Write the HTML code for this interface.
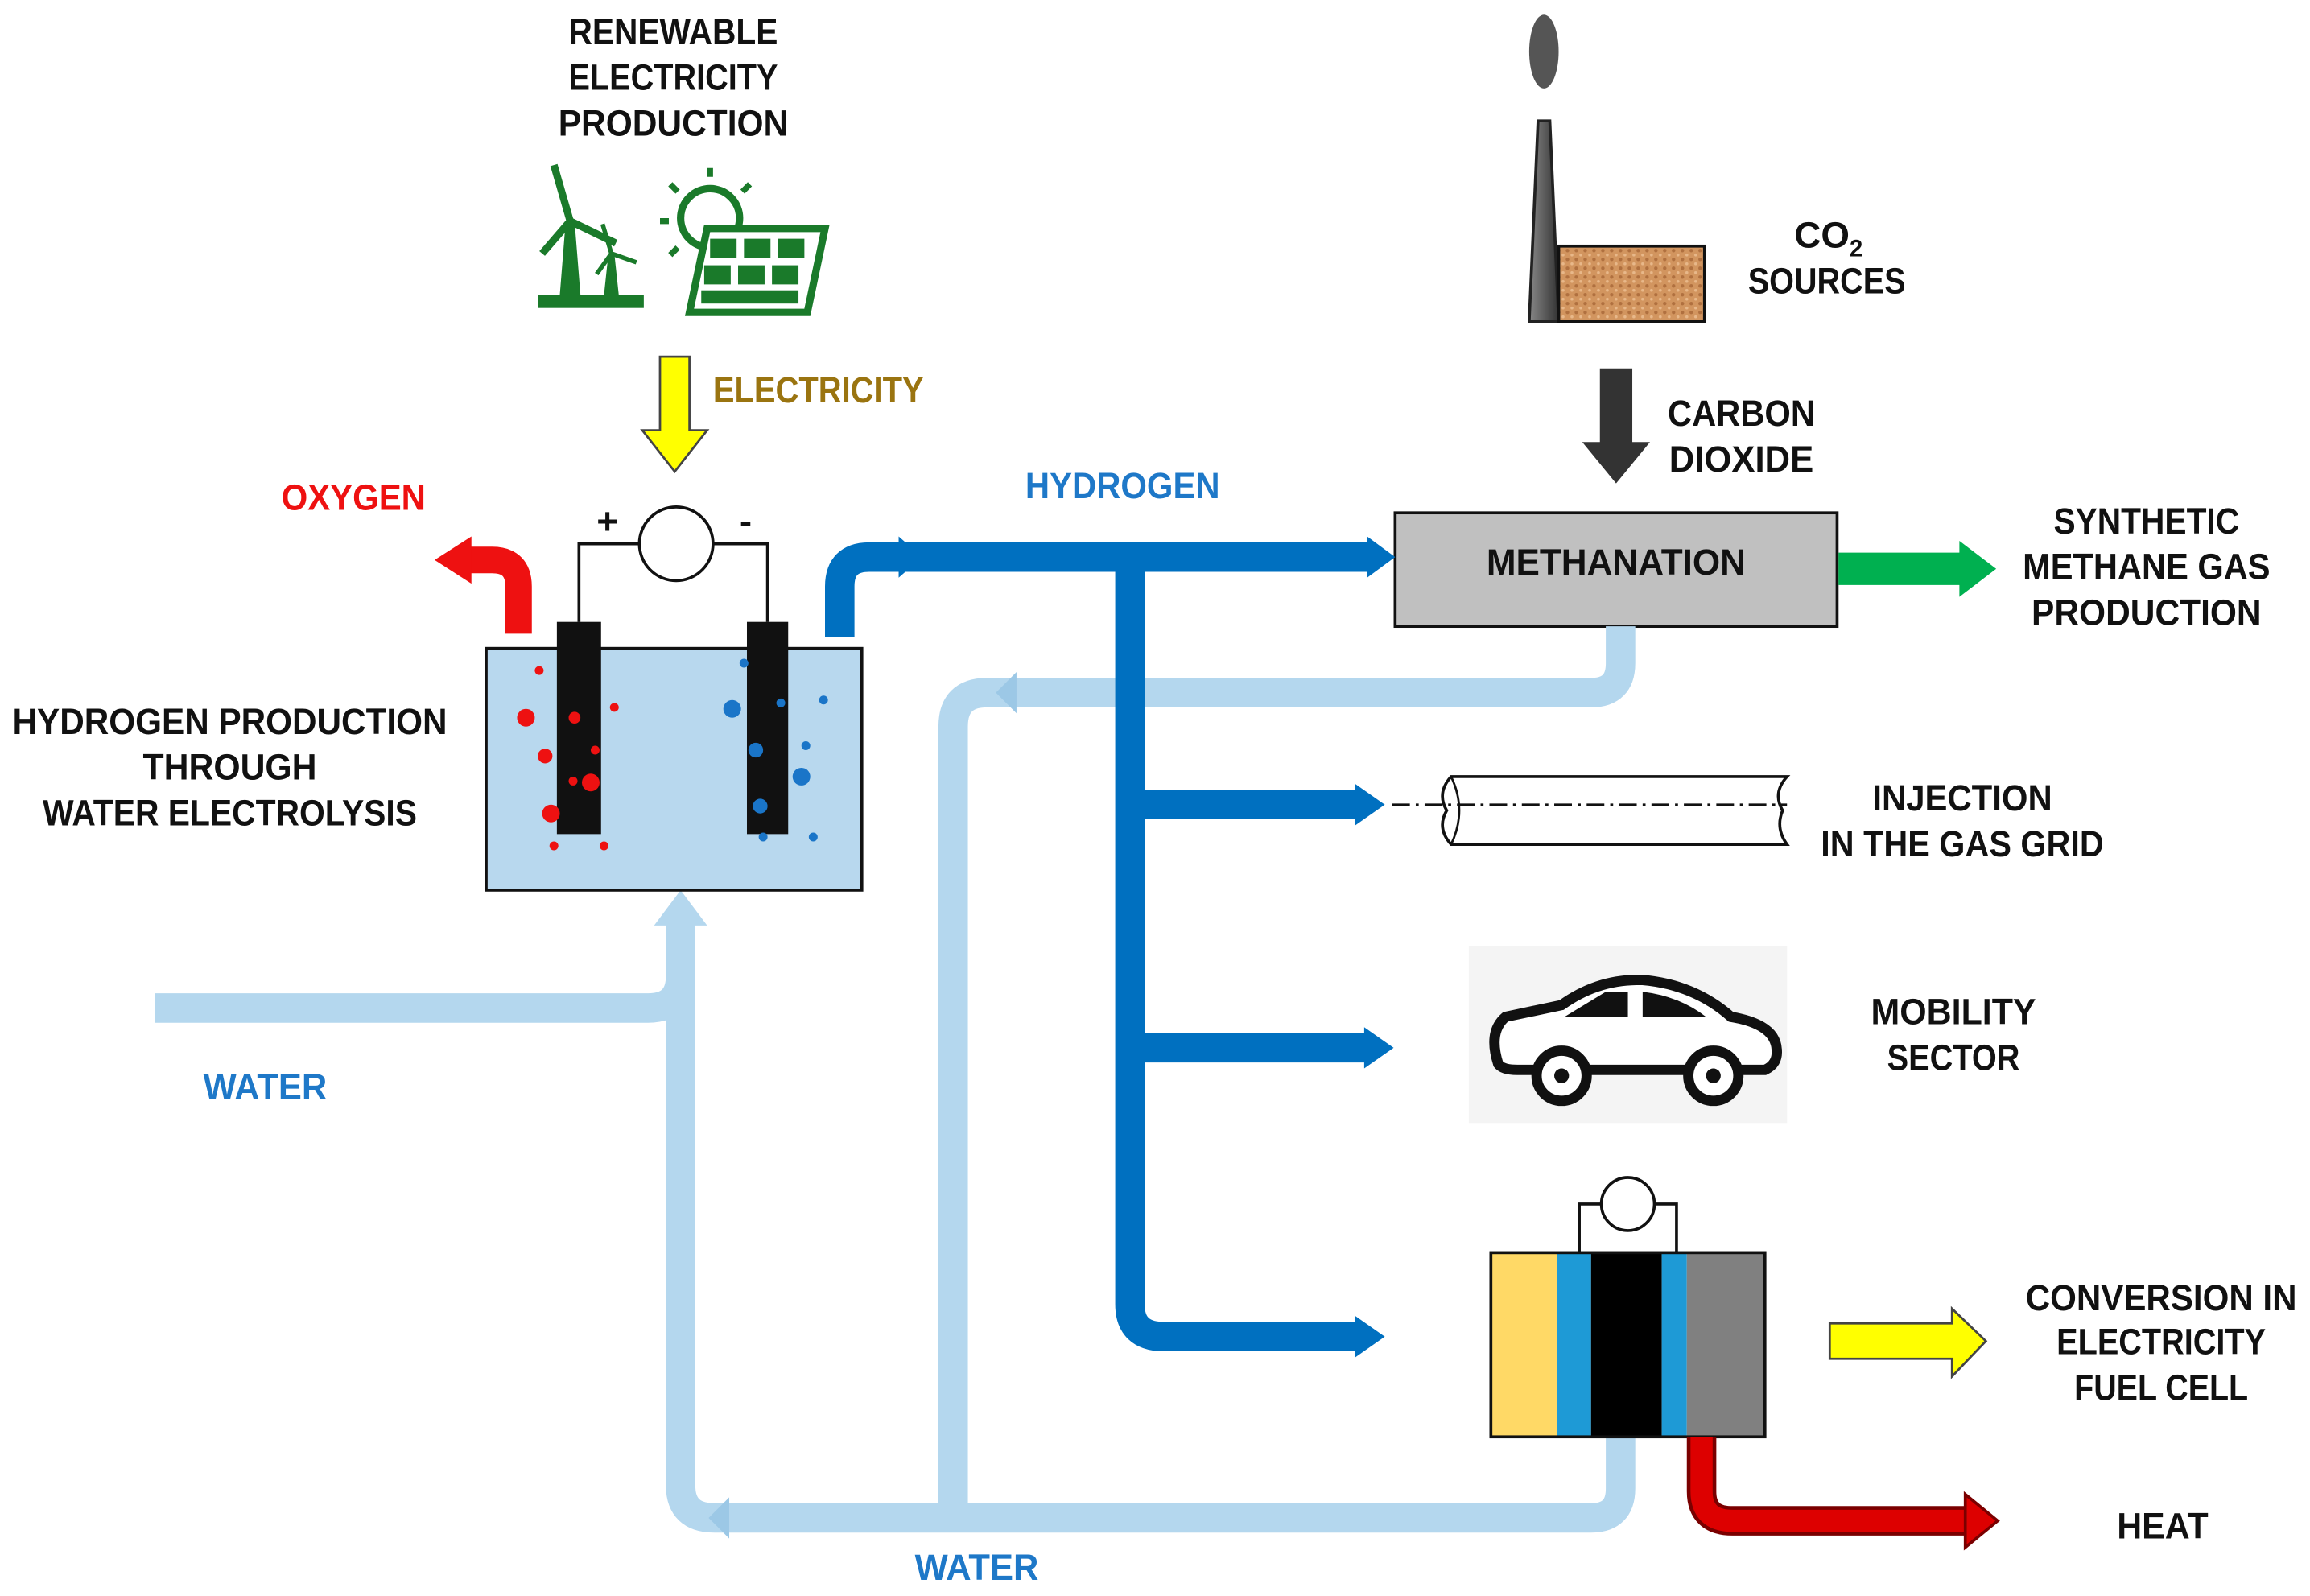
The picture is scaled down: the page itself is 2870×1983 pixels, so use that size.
<!DOCTYPE html>
<html><head><meta charset="utf-8"><style>
html,body{margin:0;padding:0;background:#fff;}
svg{display:block}
text{font-family:"Liberation Sans Narrow","Liberation Sans",sans-serif;font-weight:bold;font-size:25px;}
</style></head><body>
<svg width="2870" height="1983" viewBox="0 0 1568 1083" preserveAspectRatio="none" xmlns="http://www.w3.org/2000/svg">
<defs>
<pattern id="brick" width="6" height="6" patternUnits="userSpaceOnUse">
<rect width="6" height="6" fill="#d2955f"/><circle cx="2" cy="2" r="1.2" fill="#b0703f"/><circle cx="5" cy="5" r="1" fill="#e8b88a"/>
</pattern>
<linearGradient id="stack" x1="0" x2="1"><stop offset="0" stop-color="#888"/><stop offset="1" stop-color="#333"/></linearGradient>
</defs>

<!-- Titles -->
<g fill="#111" text-anchor="middle">
<text x="457" y="30" textLength="142" lengthAdjust="spacingAndGlyphs">RENEWABLE</text>
<text x="457" y="61" textLength="142" lengthAdjust="spacingAndGlyphs">ELECTRICITY</text>
<text x="457" y="92" textLength="156" lengthAdjust="spacingAndGlyphs">PRODUCTION</text>
<text x="1240" y="199" textLength="107" lengthAdjust="spacingAndGlyphs">SOURCES</text>
<text x="1182" y="289" textLength="100" lengthAdjust="spacingAndGlyphs">CARBON</text>
<text x="1182" y="320" textLength="98" lengthAdjust="spacingAndGlyphs">DIOXIDE</text>
<text x="1457" y="362" textLength="126" lengthAdjust="spacingAndGlyphs">SYNTHETIC</text>
<text x="1457" y="393" textLength="168" lengthAdjust="spacingAndGlyphs">METHANE GAS</text>
<text x="1457" y="424" textLength="156" lengthAdjust="spacingAndGlyphs">PRODUCTION</text>
<text x="156" y="498" textLength="295" lengthAdjust="spacingAndGlyphs">HYDROGEN PRODUCTION</text>
<text x="156" y="529" textLength="118" lengthAdjust="spacingAndGlyphs">THROUGH</text>
<text x="156" y="560" textLength="254" lengthAdjust="spacingAndGlyphs">WATER ELECTROLYSIS</text>
<text x="1332" y="550" textLength="122" lengthAdjust="spacingAndGlyphs">INJECTION</text>
<text x="1332" y="581" textLength="192" lengthAdjust="spacingAndGlyphs">IN THE GAS GRID</text>
<text x="1326" y="695" textLength="112" lengthAdjust="spacingAndGlyphs">MOBILITY</text>
<text x="1326" y="726" textLength="90" lengthAdjust="spacingAndGlyphs">SECTOR</text>
<text x="1467" y="889" textLength="184" lengthAdjust="spacingAndGlyphs">CONVERSION IN</text>
<text x="1467" y="919" textLength="142" lengthAdjust="spacingAndGlyphs">ELECTRICITY</text>
<text x="1467" y="950" textLength="118" lengthAdjust="spacingAndGlyphs">FUEL CELL</text>
<text x="1468" y="1044" textLength="62" lengthAdjust="spacingAndGlyphs">HEAT</text>
</g>
<text x="1218" y="168" fill="#111">CO<tspan font-size="16" dy="6">2</tspan></text>
<text x="484" y="273" fill="#9a7410" textLength="143" lengthAdjust="spacingAndGlyphs">ELECTRICITY</text>
<text x="240" y="346" fill="#ee1111" text-anchor="middle" textLength="98" lengthAdjust="spacingAndGlyphs">OXYGEN</text>
<text x="762" y="338" fill="#1e78c8" text-anchor="middle" textLength="132" lengthAdjust="spacingAndGlyphs">HYDROGEN</text>
<text x="180" y="746" fill="#1e78c8" text-anchor="middle" textLength="84" lengthAdjust="spacingAndGlyphs">WATER</text>
<text x="663" y="1072" fill="#1e78c8" text-anchor="middle" textLength="84" lengthAdjust="spacingAndGlyphs">WATER</text>

<!-- Renewable icons -->
<g fill="#1a7a2a" stroke="#1a7a2a">
<rect x="365" y="200" width="72" height="9" stroke="none"/>
<polygon points="380,200 384,150 390,150 394,200" stroke="none"/>
<path d="M387,150 L376,112 M387,150 L418,165 M387,150 L368,172" stroke-width="5" fill="none"/>
<polygon points="410,200 413,172 417,172 420,200" stroke="none"/>
<path d="M415,172 L409,152 M415,172 L432,178 M415,172 L405,186" stroke-width="3" fill="none"/>
<circle cx="482" cy="148" r="20" fill="none" stroke-width="5"/>
<path d="M482,120 v-6 M460,130 l-5,-5 M504,130 l5,-5 M454,150 h-6 M460,168 l-5,5" stroke-width="4"/>
<polygon points="480,155 560,155 548,212 468,212" fill="#fff" stroke-width="5"/>
<g stroke="none"><rect x="482" y="162" width="18" height="13"/><rect x="505" y="162" width="18" height="13"/><rect x="528" y="162" width="18" height="13"/>
<rect x="478" y="180" width="18" height="13"/><rect x="501" y="180" width="18" height="13"/><rect x="524" y="180" width="18" height="13"/>
<rect x="476" y="197" width="66" height="9"/></g>
</g>

<!-- Smokestack -->
<ellipse cx="1048" cy="35" rx="10" ry="25" fill="#555"/>
<polygon points="1038,218 1044,82 1052,82 1058,218" fill="url(#stack)" stroke="#222" stroke-width="2"/>
<rect x="1058" y="167" width="99" height="51" fill="url(#brick)" stroke="#111" stroke-width="2"/>

<!-- Arrows electricity / CO2 -->
<polygon points="448,242 468,242 468,292 480,292 458,320 436,292 448,292" fill="#ffff00" stroke="#444" stroke-width="1.5"/>
<polygon points="1086,250 1108,250 1108,300 1120,300 1097,328 1074,300 1086,300" fill="#333"/>

<!-- Methanation -->
<rect x="947" y="348" width="300" height="77" fill="#c0c0c0" stroke="#111" stroke-width="2"/>
<text x="1097" y="390" fill="#111" text-anchor="middle" textLength="176" lengthAdjust="spacingAndGlyphs" font-size="24">METHANATION</text>
<polygon points="1248,375 1330,375 1330,367 1355,386 1330,405 1330,397 1248,397" fill="#00b050"/>

<!-- Water pipes (light blue) -->
<g fill="none" stroke="#b4d7ee" stroke-width="20">
<path d="M105,684 H440 Q462,684 462,662 V618"/>
<path d="M1100,425 V450 Q1100,470 1080,470 H670 Q647,470 647,493 V1030"/>
<path d="M1100,975 V1010 Q1100,1030 1080,1030 H485 Q462,1030 462,1008 V625"/>
</g>
<polygon points="444,628 480,628 462,604" fill="#b4d7ee"/>
<polygon points="690,456 676,470 690,484" fill="#9cc8e6"/>
<polygon points="495,1016 481,1030 495,1044" fill="#9cc8e6"/>

<!-- Electrolysis cell -->
<rect x="330" y="440" width="255" height="164" fill="#b8d8ee" stroke="#111" stroke-width="2"/>
<path d="M393,422 V369 H435 M484,369 H521 V422" fill="none" stroke="#111" stroke-width="2"/>
<circle cx="459" cy="369" r="25" fill="#fff" stroke="#111" stroke-width="2"/>
<text x="405" y="362" font-size="24" fill="#111">+</text>
<text x="502" y="362" font-size="24" fill="#111">-</text>
<rect x="378" y="422" width="30" height="144" fill="#111"/>
<rect x="507" y="422" width="28" height="144" fill="#111"/>
<g fill="#ee1111">
<circle cx="366" cy="455" r="3"/><circle cx="357" cy="487" r="6"/><circle cx="390" cy="487" r="4"/><circle cx="417" cy="480" r="3"/>
<circle cx="370" cy="513" r="5"/><circle cx="404" cy="509" r="3"/><circle cx="401" cy="531" r="6"/><circle cx="389" cy="530" r="3"/>
<circle cx="374" cy="552" r="6"/><circle cx="376" cy="574" r="3"/><circle cx="410" cy="574" r="3"/></g>
<g fill="#1a75c8">
<circle cx="505" cy="450" r="3"/><circle cx="497" cy="481" r="6"/><circle cx="530" cy="477" r="3"/><circle cx="559" cy="475" r="3"/>
<circle cx="513" cy="509" r="5"/><circle cx="547" cy="506" r="3"/><circle cx="544" cy="527" r="6"/><circle cx="516" cy="547" r="5"/>
<circle cx="518" cy="568" r="3"/><circle cx="552" cy="568" r="3"/></g>

<!-- Oxygen arrow -->
<path d="M352,430 V398 Q352,380 334,380 H318" fill="none" stroke="#ee1111" stroke-width="18"/>
<polygon points="320,364 320,396 295,380" fill="#ee1111"/>

<!-- Hydrogen pipes -->
<g fill="none" stroke="#0070c0" stroke-width="20">
<path d="M570,432 V398 Q570,378 590,378 H930"/>
<path d="M767,378 V885 Q767,907 790,907 H922"/>
<path d="M767,546 H922"/>
<path d="M767,711 H928"/>
</g>
<polygon points="928,364 947,378 928,392" fill="#0070c0"/>
<polygon points="920,532 940,546 920,560" fill="#0070c0"/>
<polygon points="926,697 946,711 926,725" fill="#0070c0"/>
<polygon points="920,893 940,907 920,921" fill="#0070c0"/>
<polygon points="610,364 626,378 610,392" fill="#0070c0"/>

<!-- Gas grid pipe -->
<path d="M985,527 H1213 Q1203,538 1210,550 Q1205,562 1213,573 H985 Q975,562 982,550 Q975,538 985,527 Z" fill="#fff" stroke="#111" stroke-width="2"/>
<path d="M985,527 Q996,550 985,573" fill="none" stroke="#111" stroke-width="1.5"/>
<line x1="945" y1="546" x2="1213" y2="546" stroke="#111" stroke-width="1.5" stroke-dasharray="12,4,2,4"/>

<!-- Car -->
<rect x="997" y="642" width="216" height="120" fill="#f4f4f4"/>
<path d="M1017,722 Q1010,700 1022,690 L1060,682 Q1085,664 1115,665 Q1150,668 1175,690 Q1205,695 1206,712 Q1207,722 1198,726 L1030,726 Q1020,726 1017,722 Z" fill="#fff" stroke="#111" stroke-width="7"/>
<path d="M1062,690 L1090,673 L1105,673 L1105,690 Z M1115,673 Q1140,676 1158,690 L1115,690 Z" fill="#111"/>
<circle cx="1060" cy="730" r="17" fill="#fff" stroke="#111" stroke-width="7"/><circle cx="1060" cy="730" r="5" fill="#111"/>
<circle cx="1163" cy="730" r="17" fill="#fff" stroke="#111" stroke-width="7"/><circle cx="1163" cy="730" r="5" fill="#111"/>

<!-- Fuel cell -->
<path d="M1072,850 V817 H1087 M1123,817 H1138 V850" fill="none" stroke="#111" stroke-width="2"/>
<circle cx="1105" cy="817" r="18" fill="#fff" stroke="#111" stroke-width="2"/>
<rect x="1012" y="850" width="45" height="125" fill="#ffd966"/>
<rect x="1057" y="850" width="23" height="125" fill="#1e9ad6"/>
<rect x="1080" y="850" width="48" height="125" fill="#000"/>
<rect x="1128" y="850" width="17" height="125" fill="#1e9ad6"/>
<rect x="1145" y="850" width="53" height="125" fill="#808080"/>
<rect x="1012" y="850" width="186" height="125" fill="none" stroke="#111" stroke-width="2"/>
<polygon points="1242,898 1325,898 1325,888 1348,910 1325,934 1325,922 1242,922" fill="#ffff00" stroke="#444" stroke-width="1.5"/>

<!-- Heat arrow -->
<path d="M1155,975 V1012 Q1155,1032 1176,1032 H1336" fill="none" stroke="#7a0000" stroke-width="20"/>
<path d="M1155,975 V1012 Q1155,1032 1176,1032 H1336" fill="none" stroke="#dd0000" stroke-width="15"/>
<polygon points="1334,1014 1356,1032 1334,1050" fill="#dd0000" stroke="#7a0000" stroke-width="2"/>
</svg>
</body></html>
